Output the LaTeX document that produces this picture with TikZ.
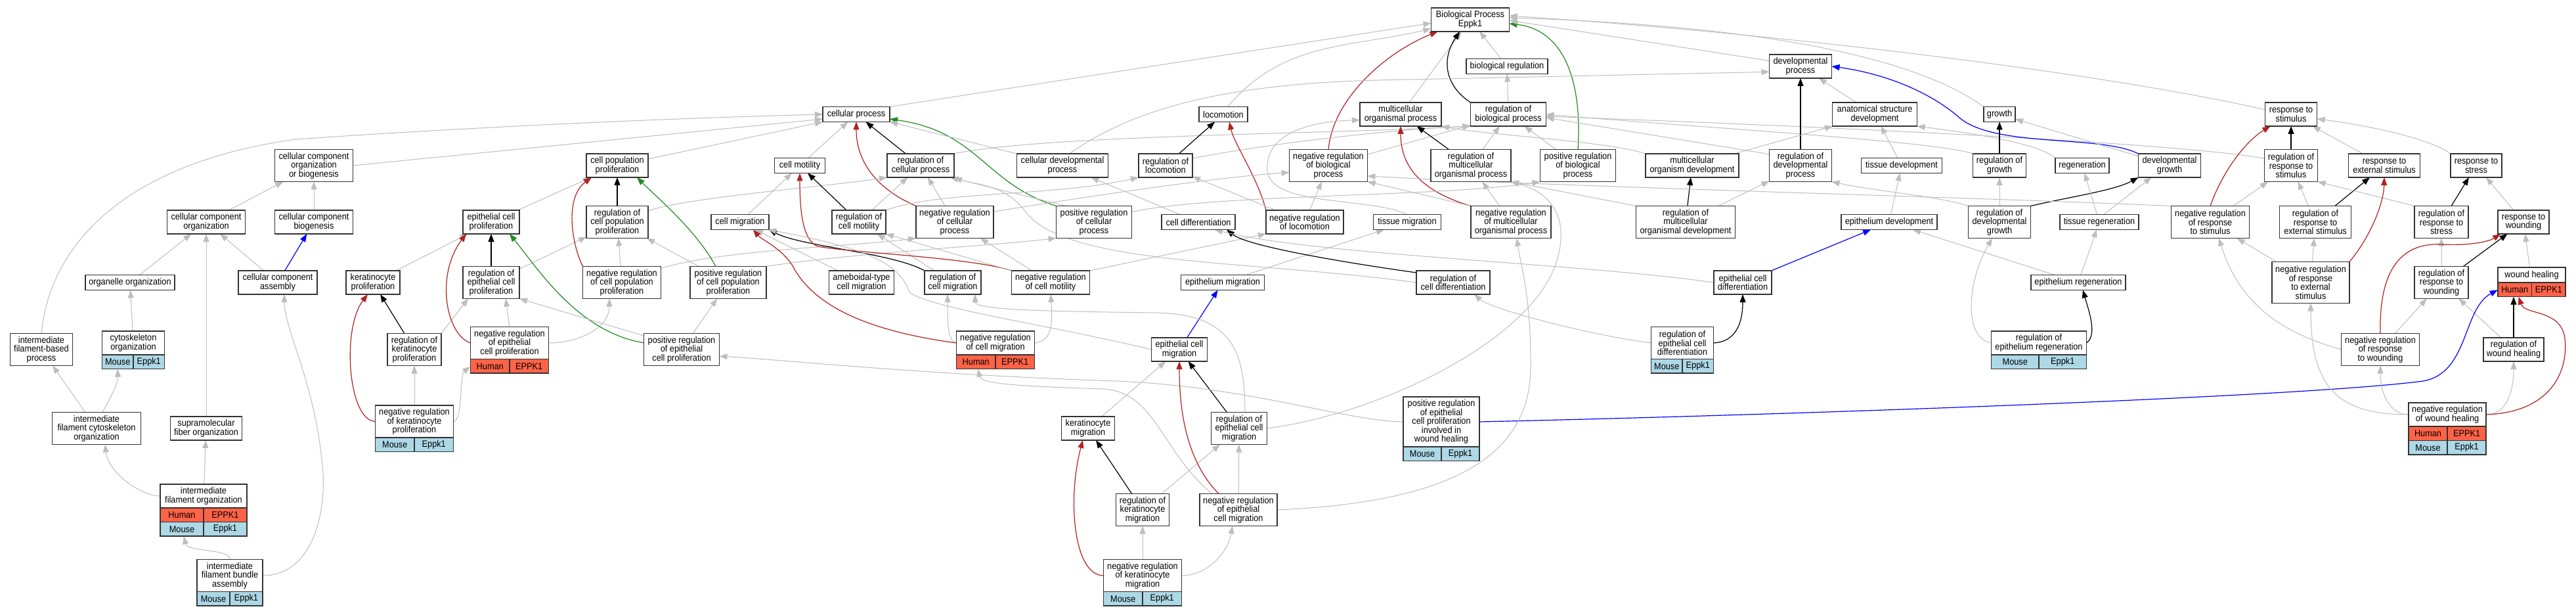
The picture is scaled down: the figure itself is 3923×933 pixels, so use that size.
\documentclass[tikz,border=0pt]{standalone}
\usepackage{fontspec}
\newfontfamily\gofont[FakeStretch=0.91]{Liberation Sans}
\usetikzlibrary{arrows.meta, fit, backgrounds}

\definecolor{tomato}{HTML}{FF6347}
\definecolor{lightblue}{HTML}{ADD8E6}
\definecolor{edgegray}{HTML}{BEBEBE}
\definecolor{firebrick}{HTML}{B22222}
\definecolor{forestgreen}{HTML}{228B22}

% one species row (two cells) under a term box
\newcommand{\genrow}[5]{%
  \node[#2, minimum width=#3, anchor=north west] (#1-a) at (#1.south west) {#4};
  \node[#2, minimum width=#3, anchor=north west] (#1-b) at (#1-a.north east) {#5};}

\begin{document}
\begin{tikzpicture}[
    x=1pt, y=-1pt,
    term/.style={rectangle, draw=black!80, line width=1.3pt, fill=white, align=center,
                 inner xsep=3pt, inner ysep=0pt, outer sep=0pt,
                 font=\gofont\fontsize{14}{13.4}\selectfont},
    l1/.style={minimum height=23pt},
    l2/.style={minimum height=36pt},
    l3/.style={minimum height=49pt},
    l4/.style={minimum height=63pt},
    l5/.style={minimum height=76pt},
    human/.style={term, fill=tomato, minimum height=21.5pt},
    mouse/.style={term, fill=lightblue, minimum height=21.5pt},
    isa/.style={draw=edgegray, line width=1pt, -{Triangle[length=12pt,width=9pt]}},
    regs/.style={isa, draw=black, line width=1.2pt},
    negreg/.style={isa, draw=firebrick, line width=1.2pt},
    posreg/.style={isa, draw=forestgreen, line width=1.2pt},
    partof/.style={isa, draw=blue, line width=1.2pt}
  ]
  \useasboundingbox (0,0) rectangle (3923,933);

  % Nodes for the upper terms
  \node[term, minimum width=119pt, l2] (bp) at (2239,30) {Biological Process\\Eppk1};
  \node[term, minimum width=124pt, l1] (br) at (2295,101) {biological regulation};
  \node[term, minimum width=95pt, l2] (dp) at (2742,101) {developmental\\process};
  \node[term, minimum width=102pt, l1] (cp) at (1304,174) {cellular process};
  \node[term, minimum width=74pt, l1] (loc) at (1863,174) {locomotion};
  \node[term, minimum width=124pt, l2] (mop) at (2133,174) {multicellular\\organismal process};
  \node[term, minimum width=115pt, l2] (rbp) at (2297,174) {regulation of\\biological process};
  \node[term, minimum width=129pt, l2] (asd) at (2855,174) {anatomical structure\\development};
  \node[term, minimum width=48pt, l1] (gro) at (3045,174) {growth};
  \node[term, minimum width=79pt, l2] (rs) at (3489,174) {response to\\stimulus};

  \node[term, minimum width=119pt, l3] (ccob) at (478,252) {cellular component\\organization\\or biogenesis};
  \node[term, minimum width=94pt, l2] (cpp) at (940,252) {cell population\\proliferation};
  \node[term, minimum width=77pt, l1] (cmot) at (1218,252) {cell motility};
  \node[term, minimum width=102pt, l2] (rcp) at (1402,252) {regulation of\\cellular process};
  \node[term, minimum width=139pt, l2] (cdp) at (1618,252) {cellular developmental\\process};
  \node[term, minimum width=82pt, l2] (rloc) at (1775,252) {regulation of\\locomotion};
  \node[term, minimum width=119pt, l3] (nrbp) at (2023,252) {negative regulation\\of biological\\process};
  \node[term, minimum width=122pt, l3] (rmop) at (2240,252) {regulation of\\multicellular\\organismal process};
  \node[term, minimum width=115pt, l3] (prbp) at (2403,252) {positive regulation\\of biological\\process};
  \node[term, minimum width=142pt, l2] (mod) at (2577,252) {multicellular\\organism development};
  \node[term, minimum width=95pt, l3] (rdp) at (2742,252) {regulation of\\developmental\\process};
  \node[term, minimum width=123pt, l1] (td) at (2896,252) {tissue development};
  \node[term, minimum width=81pt, l2] (rgro) at (3045,252) {regulation of\\growth};
  \node[term, minimum width=82pt, l1] (regen) at (3171,252) {regeneration};
  \node[term, minimum width=95pt, l2] (dg) at (3304,252) {developmental\\growth};
  \node[term, minimum width=81pt, l3] (rrs) at (3489,252) {regulation of\\response to\\stimulus};
  \node[term, minimum width=109pt, l2] (res) at (3631,252) {response to\\external stimulus};
  \node[term, minimum width=78pt, l2] (rstr) at (3771,252) {response to\\stress};

  % Nodes for the middle terms
  \node[term, minimum width=119pt, l2] (cco) at (314,338) {cellular component\\organization};
  \node[term, minimum width=119pt, l2] (ccb) at (478,338) {cellular component\\biogenesis};
  \node[term, minimum width=86pt, l2] (ecp) at (748,338) {epithelial cell\\proliferation};
  \node[term, minimum width=94pt, l3] (rcpp) at (940,338) {regulation of\\cell population\\proliferation};
  \node[term, minimum width=88pt, l1] (cmig) at (1127,338) {cell migration};
  \node[term, minimum width=82pt, l2] (rcm) at (1308,338) {regulation of\\cell motility};
  \node[term, minimum width=118pt, l3] (nrcp) at (1454,338) {negative regulation\\of cellular\\process};
  \node[term, minimum width=115pt, l3] (prcp) at (1666,338) {positive regulation\\of cellular\\process};
  \node[term, minimum width=112pt, l1] (cdiff) at (1825,338) {cell differentiation};
  \node[term, minimum width=118pt, l2] (nrloc) at (1987,338) {negative regulation\\of locomotion};
  \node[term, minimum width=103pt, l1] (tmig) at (2143,338) {tissue migration};
  \node[term, minimum width=122pt, l3] (nrmop) at (2301,338) {negative regulation\\of multicellular\\organismal process};
  \node[term, minimum width=151pt, l3] (rmod) at (2567,338) {regulation of\\multicellular\\organismal development};
  \node[term, minimum width=146pt, l1] (epd) at (2877,338) {epithelium development};
  \node[term, minimum width=95pt, l3] (rdg) at (3045,338) {regulation of\\developmental\\growth};
  \node[term, minimum width=120pt, l1] (treg) at (3197,338) {tissue regeneration};
  \node[term, minimum width=119pt, l3] (nrrs) at (3366,338) {negative regulation\\of response\\to stimulus};
  \node[term, minimum width=109pt, l3] (rres) at (3526,338) {regulation of\\response to\\external stimulus};
  \node[term, minimum width=82pt, l3] (rrstr) at (3718,338) {regulation of\\response to\\stress};
  \node[term, minimum width=78pt, l2] (rwnd) at (3843,338) {response to\\wounding};

  \node[term, minimum width=136pt, l1] (oo) at (198,430) {organelle organization};
  \node[term, minimum width=120pt, l2] (cca) at (423,430) {cellular component\\assembly};
  \node[term, minimum width=82pt, l2] (kp) at (568,430) {keratinocyte\\proliferation};
  \node[term, minimum width=86pt, l3] (repp) at (748,430) {regulation of\\epithelial cell\\proliferation};
  \node[term, minimum width=119pt, l3] (nrcpp) at (947,430) {negative regulation\\of cell population\\proliferation};
  \node[term, minimum width=116pt, l3] (prcpp) at (1109,430) {positive regulation\\of cell population\\proliferation};
  \node[term, minimum width=99pt, l2] (acm) at (1312,430) {ameboidal-type\\cell migration};
  \node[term, minimum width=86pt, l2] (rcmig) at (1451,430) {regulation of\\cell migration};
  \node[term, minimum width=119pt, l2] (nrcm) at (1600,430) {negative regulation\\of cell motility};
  \node[term, minimum width=127pt, l1] (epm) at (1862,430) {epithelium migration};
  \node[term, minimum width=112pt, l2] (rcd) at (2213,430) {regulation of\\cell differentiation};
  \node[term, minimum width=88pt, l2] (ecd) at (2654,430) {epithelial cell\\differentiation};
  \node[term, minimum width=144pt, l1] (epr) at (3165,430) {epithelium regeneration};
  \node[term, minimum width=118pt, l4] (nrres) at (3519,430) {negative regulation\\of response\\to external\\stimulus};
  \node[term, minimum width=82pt, l3] (rrw) at (3718,430) {regulation of\\response to\\wounding};
  \node[term, minimum width=103pt, l1] (wh) at (3855.5,418.5) {wound healing};
  \genrow{wh}{human}{51.5pt}{Human}{EPPK1}
  \node[fit=(wh)(wh-a)(wh-b), inner sep=0pt] (whB) {};

  % Nodes for the lower terms
  \node[term, minimum width=95pt, l3] (ifbp) at (63,532) {intermediate\\filament-based\\process};
  \node[term, minimum width=95pt, l2] (cyto) at (203,522) {cytoskeleton\\organization};
  \genrow{cyto}{mouse}{47.5pt}{Mouse}{Eppk1}
  \node[fit=(cyto)(cyto-a)(cyto-b), inner sep=0pt] (cytoB) {};
  \node[term, minimum width=82pt, l3] (rkp) at (631,532) {regulation of\\keratinocyte\\proliferation};
  \node[term, minimum width=119pt, l3] (nrepp) at (776,522) {negative regulation\\of epithelial\\cell proliferation};
  \genrow{nrepp}{human}{59.5pt}{Human}{EPPK1}
  \node[fit=(nrepp)(nrepp-a)(nrepp-b), inner sep=0pt] (nreppB) {};
  \node[term, minimum width=115pt, l3] (prepp) at (1038,532) {positive regulation\\of epithelial\\cell proliferation};
  \node[term, minimum width=119pt, l2] (nrcmig) at (1516,522) {negative regulation\\of cell migration};
  \genrow{nrcmig}{human}{59.5pt}{Human}{EPPK1}
  \node[fit=(nrcmig)(nrcmig-a)(nrcmig-b), inner sep=0pt] (nrcmigB) {};
  \node[term, minimum width=85pt, l2] (ecm) at (1796,532) {epithelial cell\\migration};
  \node[term, minimum width=95pt, l3] (redd) at (2562,522) {regulation of\\epithelial cell\\differentiation};
  \genrow{redd}{mouse}{47.5pt}{Mouse}{Eppk1}
  \node[term, minimum width=145pt, l2] (rer) at (3105,522) {regulation of\\epithelium regeneration};
  \genrow{rer}{mouse}{72.5pt}{Mouse}{Eppk1}
  \node[term, minimum width=119pt, l3] (nrrw) at (3625,532) {negative regulation\\of response\\to wounding};
  \node[term, minimum width=92pt, l2] (rwh) at (3828,532) {regulation of\\wound healing};

  \node[term, minimum width=135pt, l3] (ifco) at (147,652) {intermediate\\filament cytoskeleton\\organization};
  \node[term, minimum width=109pt, l2] (sfo) at (314,652) {supramolecular\\fiber organization};
  \node[term, minimum width=119pt, l3] (nrkp) at (631,641.5) {negative regulation\\of keratinocyte\\proliferation};
  \genrow{nrkp}{mouse}{59.5pt}{Mouse}{Eppk1}
  \node[term, minimum width=81pt, l2] (km) at (1657,652) {keratinocyte\\migration};
  \node[term, minimum width=85pt, l3] (recm) at (1887,652) {regulation of\\epithelial cell\\migration};
  \node[term, minimum width=116pt, l5] (prwh) at (2195,642) {positive regulation\\of epithelial\\cell proliferation\\involved in\\wound healing};
  \genrow{prwh}{mouse}{58pt}{Mouse}{Eppk1}
  \node[term, minimum width=118pt, l2] (nrwh) at (3727,631) {negative regulation\\of wound healing};
  \genrow{nrwh}{human}{59pt}{Human}{EPPK1}
  \genrow{nrwh-a}{mouse}{59pt}{Mouse}{Eppk1}

  \node[term, minimum width=132pt, l2] (ifo) at (310,755) {intermediate\\filament organization};
  \genrow{ifo}{human}{66pt}{Human}{EPPK1}
  \genrow{ifo-a}{mouse}{66pt}{Mouse}{Eppk1}
  \node[fit=(ifo)(ifo-a-a)(ifo-a-b), inner sep=0pt] (ifoB) {};
  \node[term, minimum width=81pt, l3] (rkm) at (1740,776) {regulation of\\keratinocyte\\migration};
  \node[term, minimum width=118pt, l3] (nrecm) at (1886,776) {negative regulation\\of epithelial\\cell migration};

  \node[term, minimum width=100pt, l3] (ifba) at (350,876) {intermediate\\filament bundle\\assembly};
  \genrow{ifba}{mouse}{50pt}{Mouse}{Eppk1}
  \node[term, minimum width=119pt, l3] (nrkm) at (1740,876) {negative regulation\\of keratinocyte\\migration};
  \genrow{nrkm}{mouse}{59.5pt}{Mouse}{Eppk1}

  \begin{scope}[on background layer]
  \fill[white] (0,0) rectangle (3923,933);

  % Arrows into the root
  \draw[isa] (br) -- (bp);
  \draw[isa] (cp.north east) -- (bp.185);
  \draw[isa] (loc.60) to[out=50,in=193] (bp.193);
  \draw[isa] (mop) -- (bp);
  \draw[regs] (rbp.north west) .. controls (2200,130) and (2195,90) .. ([xshift=-16pt]bp.south);
  \draw[negreg] (nrbp.north) .. controls (2030,150) and (2110,80) .. ([xshift=10pt]bp.south west);
  \draw[posreg] (prbp.north) .. controls (2410,120) and (2380,45) .. ([yshift=-6pt]bp.east);
  \draw[isa] (dp.170) -- ([yshift=-1pt]bp.east);
  \draw[isa] (gro.north west) .. controls (2920,90) and (2700,40) .. ([yshift=3pt]bp.east);
  \draw[isa] (rs.170) .. controls (3200,110) and (2700,50) .. ([yshift=6pt]bp.east);

  % Arrows of the upper rows
  \draw[isa] (rbp) -- (br);
  \draw[regs] (rcp) -- (cp);
  \draw[isa] (rcp.20) .. controls (1600,205) and (2000,205) .. (rbp.south west);
  \draw[isa] (rloc.15) .. controls (1950,215) and (2150,195) .. (rbp.south west);
  \draw[isa] (nrbp) -- (rbp);
  \draw[isa] (rmop) -- (rbp);
  \draw[isa] (prbp) -- (rbp);
  \draw[isa] (rdp.160) -- (rbp.-5);
  \draw[isa] (rgro.north west) .. controls (2950,215) and (2600,195) .. (rbp.east);
  \draw[isa] (rrs.165) .. controls (3300,215) and (2700,190) .. ([yshift=-3pt]rbp.east);
  \draw[isa] (ccob.east) -- (cp.188);
  \draw[isa] (ifbp.north) .. controls (75,380) and (180,250) .. (450,212) .. controls (800,188) and (1100,178) .. (cp.west);
  \draw[isa] (cpp) -- (cp.south west);
  \draw[isa] (cmot) -- (cp);
  \draw[negreg] (nrcp.north west) .. controls (1340,290) and (1304,250) .. (cp.south);
  \draw[posreg] (prcp.north west) .. controls (1500,280) and (1490,200) .. (cp.-8);
  \draw[isa] (cdp.north west) -- (cp.south east);
  \draw[isa] (cdp.60) .. controls (1720,170) and (1850,128) .. (2100,122) -- (dp.190);
  \draw[regs] (rloc) -- (loc);
  \draw[negreg] (nrloc.north west) .. controls (1915,270) and (1880,220) .. ([xshift=9pt]loc.south);
  \draw[isa] (nrloc) -- (rloc);
  \draw[isa] (nrloc) -- (nrbp);
  \draw[isa] (rcm.north east) .. controls (1430,290) and (1600,300) .. (rloc.south west);
  \draw[isa] (nrcm.north east) -- (nrloc.south west);
  \draw[regs] (rmop) -- (mop);
  \draw[negreg] (nrmop.north west) .. controls (2160,290) and (2133,250) .. (mop.south);
  \draw[isa] (mod.north west) .. controls (2450,215) and (2260,205) .. (mop.south east);
  \draw[isa] (tmig.north) .. controls (2090,300) and (1935,315) .. (1930,260) .. controls (1926,205) and (1990,185) .. (mop.188);
  \draw[isa] (epm) -- (tmig);
  \draw[isa] (asd) -- (dp);
  \draw[regs] (rdp) -- (dp);
  \draw[partof] (dg.north west) .. controls (3200,205) and (3040,225) .. (2985,180) .. controls (2940,140) and (2870,112) .. (dp.east);
  \draw[isa] (mod) -- (asd);
  \draw[isa] (td) -- (asd);
  \draw[isa] (regen.north west) .. controls (3100,215) and (2980,200) .. (asd.south east);
  \draw[regs] (rgro) -- (gro);
  \draw[isa] (dg) -- (gro);
  \draw[regs] (rrs) -- (rs);
  \draw[negreg] (nrrs.north) .. controls (3385,260) and (3420,215) .. ([xshift=8pt]rs.south west);
  \draw[isa] (res) -- (rs);
  \draw[isa] (rstr.north west) .. controls (3700,210) and (3600,190) .. (rs.-10);

  % Arrows of the middle rows
  \draw[isa] (cco) -- (ccob);
  \draw[isa] (ccb) -- (ccob);
  \draw[isa] (ecp) -- (cpp);
  \draw[regs] (rcpp) -- (cpp);
  \draw[isa] (rcpp.20) .. controls (1050,300) and (1250,285) .. (rcp.south west);
  \draw[isa] (cmig) -- (cmot);
  \draw[regs] (rcm) -- (cmot);
  \draw[isa] (rcm) -- (rcp);
  \draw[isa] (nrcp) -- (rcp);
  \draw[isa] (nrcp.15) .. controls (1650,300) and (1850,270) .. (nrbp.190);
  \draw[isa] (prcp.150) -- ([xshift=-6pt]rcp.south east);
  \draw[isa] (prcp.15) .. controls (1850,295) and (2200,300) .. (prbp.south west);
  \draw[isa] (cdiff) -- (cdp);
  \draw[regs] (rcd.165) .. controls (2050,400) and (1900,375) .. (cdiff.-15);
  \draw[isa] (rcd.west) .. controls (1900,395) and (1620,405) .. (1560,320) .. controls (1530,280) and (1480,280) .. (rcp.south east);
  \draw[isa] (ecd.west) .. controls (2400,400) and (2000,388) .. (cdiff.-25);
  \draw[isa] (nrmop) -- (rmop);
  \draw[isa] (nrmop.north west) -- (nrbp.south east);
  \draw[isa] (rmod.north west) -- (rmop.south east);
  \draw[regs] (rmod) -- (mod);
  \draw[isa] (rmod) -- (rdp);
  \draw[isa] (epd) -- (td);
  \draw[isa] (rdg) -- (rgro);
  \draw[regs] (rdg.north east) .. controls (3150,300) and (3220,290) .. (dg.south west);
  \draw[isa] (rdg.north west) .. controls (2960,300) and (2850,290) .. (rdp.south east);
  \draw[isa] (treg) -- (regen);
  \draw[isa] (treg.60) -- ([xshift=20pt]dg.south west);
  \draw[isa] (nrrs) -- (rrs);
  \draw[isa] (nrrs.north west) .. controls (3000,300) and (2400,285) .. (nrbp.-15);
  \draw[isa] (rres) -- (rrs);
  \draw[regs] (rres) -- (res);
  \draw[isa] (rrstr.north west) -- (rrs.south east);
  \draw[regs] (rrstr) -- (rstr);
  \draw[isa] (rwnd) -- (rstr);

  \draw[isa] (oo) -- (cco);
  \draw[isa] (cca) -- (cco);
  \draw[partof] (cca) -- (ccb);
  \draw[isa] (kp) -- (ecp);
  \draw[regs] (repp) -- (ecp);
  \draw[isa] (repp) -- (rcpp);
  \draw[negreg] (nrcpp.north west) .. controls (870,370) and (860,300) .. ([xshift=8pt]cpp.south west);
  \draw[isa] (nrcpp) -- (rcpp);
  \draw[isa] (nrcpp.20) .. controls (1100,380) and (1300,375) .. (nrcp.south west);
  \draw[posreg] ([xshift=-19pt]prcpp.north) .. controls (1060,350) and (1000,300) .. ([xshift=30pt]cpp.south);
  \draw[isa] (prcpp) -- (rcpp);
  \draw[isa] (prcpp.north east) .. controls (1300,385) and (1500,375) .. (prcp.south west);
  \draw[isa] (acm) -- (cmig);
  \draw[regs] (rcmig.north west) .. controls (1360,385) and (1220,375) .. (cmig.south east);
  \draw[isa] (rcmig) -- (rcm);
  \draw[negreg] (nrcm.north west) .. controls (1480,392) and (1300,385) .. (1245,375) .. controls (1222,365) and (1218,320) .. (cmot.south);
  \draw[isa] (nrcm.north west) -- (rcm.south east);
  \draw[isa] (nrcm) -- (nrcp);
  \draw[isa] (nrres) -- (rres);
  \draw[negreg] (nrres.north east) .. controls (3610,360) and (3630,310) .. (res.south);
  \draw[isa] (nrres) -- (nrrs);
  \draw[isa] (rrw) -- (rrstr);
  \draw[regs] (rrw) -- (rwnd);
  \draw[isa] (whB) -- (rwnd);
  \draw[partof] (ecd) -- (epd);
  \draw[isa] (epr) -- (treg);
  \draw[isa] (epr) -- (epd);

  % Arrows of the lower rows
  \draw[isa] (cyto) -- (oo);
  \draw[regs] (rkp) -- (kp);
  \draw[isa] (rkp.north east) -- ([xshift=-35pt]repp.south);
  \draw[negreg] (nrepp.west) .. controls (680,510) and (662,420) .. ([xshift=5pt]ecp.south west);
  \draw[isa] (nrepp.north) -- ([xshift=22pt]repp.south);
  \draw[isa] (nrepp.east) .. controls (880,522) and (928,500) .. ([xshift=-19pt]nrcpp.south);
  \draw[posreg] (prepp.170) .. controls (880,505) and (820,410) .. ([xshift=28pt]ecp.south);
  \draw[isa] (prepp.160) -- (repp.south east);
  \draw[isa] (prepp) -- (prcpp);
  \draw[isa] (nrcmig.west) .. controls (1443,520) and (1443,490) .. ([xshift=-8pt]rcmig.south);
  \draw[negreg] (nrcmig.west) .. controls (1330,505) and (1245,470) .. (1210,410) .. controls (1195,380) and (1160,365) .. ([xshift=20pt]cmig.south);
  \draw[isa] (nrcmig.east) .. controls (1603,520) and (1603,490) .. (nrcm.south);
  \draw[isa] (ecm.west) .. controls (1600,495) and (1420,470) .. (1385,445) .. controls (1370,400) and (1320,378) .. (cmig.-15);
  \draw[partof] (ecm) -- (epm);
  \draw[isa] (redd.west) .. controls (2420,510) and (2270,470) .. ([xshift=32pt]rcd.south);
  \draw[regs] (redd.east) .. controls (2650,520) and (2654,480) .. (ecd.south);
  \draw[regs] (rer.east) .. controls (3195,510) and (3180,470) .. ([xshift=7pt]epr.south);
  \draw[isa] (rer.west) .. controls (2990,515) and (2995,430) .. ([xshift=-11pt]rdg.south);
  \draw[isa] (nrrw) -- (rrw);
  \draw[isa] (nrrw.west) .. controls (3470,505) and (3410,460) .. ([xshift=13pt]nrrs.south);
  \draw[negreg] (nrrw.north) .. controls (3623,420) and (3650,368) .. (3720,372) .. controls (3760,374) and (3790,368) .. ([xshift=4pt]rwnd.south west);
  \draw[isa] (rwh) -- (rrw);
  \draw[regs] (rwh.north) -- (rwh.north |- whB.south);

  \draw[isa] (ifco) -- (ifbp);
  \draw[isa] (ifco.70) .. controls (172,600) and (180,580) .. ([xshift=-24pt]cytoB.south);
  \draw[isa] (sfo) -- (cco);
  \draw[negreg] (nrkp.west) .. controls (530,640) and (520,500) .. ([xshift=-8pt]kp.south);
  \draw[isa] (nrkp) -- (rkp);
  \draw[isa] (nrkp.east) .. controls (705,641) and (700,570) .. ([yshift=10pt]nreppB.south west);
  \draw[isa] (km) -- (ecm);
  \draw[regs] (recm) -- (ecm);
  \draw[isa] (recm.70) .. controls (1896,540) and (1880,478) .. (1760,476) .. controls (1600,474) and (1485,472) .. ([xshift=34pt]rcmig.south);
  \draw[isa] (recm.east) .. controls (2100,630) and (2330,520) .. (2370,400) .. controls (2395,320) and (2350,290) .. (rmop.south east);
  \draw[isa] (prwh.west) .. controls (2050,641) and (1900,588) .. (1700,580) .. controls (1400,570) and (1200,548) .. (prepp.-10);
  \draw[partof] (prwh.east) .. controls (2700,632) and (3500,605) .. (3690,580) .. controls (3760,568) and (3750,470) .. ([yshift=-12pt]whB.west);
  \draw[isa] (nrwh.west) .. controls (3640,631) and (3625,600) .. (nrrw.south);
  \draw[isa] (nrwh.east) .. controls (3815,631) and (3828,600) .. (rwh.south);
  \draw[negreg] (nrwh.east) .. controls (3880,628) and (3912,570) .. (3906,515) .. controls (3900,470) and (3845,480) .. ([xshift=-20pt]whB.south);
  \draw[isa] (nrwh.west) .. controls (3560,631) and (3519,590) .. (nrres.south);

  \draw[isa] (ifo.west) .. controls (215,755) and (165,720) .. ([xshift=13pt]ifco.south);
  \draw[isa] (ifo) -- (sfo);
  \draw[regs] (rkm) -- (km);
  \draw[isa] (rkm) -- (recm);
  \draw[negreg] ([xshift=-30pt]nrecm.north) .. controls (1805,700) and (1796,620) .. (ecm.south);
  \draw[isa] (nrecm) -- (recm);
  \draw[isa] ([xshift=-40pt]nrecm.north) .. controls (1770,690) and (1760,596) .. (1680,592) .. controls (1560,588) and (1495,585) .. ([xshift=-27pt]nrcmigB.south);
  \draw[isa] (nrecm.east) .. controls (2200,765) and (2330,700) .. (2331,560) .. controls (2332,450) and (2315,400) .. ([xshift=9pt]nrmop.south);

  \draw[isa] (ifba.north) .. controls (351,835) and (285,840) .. ([xshift=-30pt]ifoB.south);
  \draw[isa] (ifba.east) .. controls (480,876) and (500,770) .. (490,700) .. controls (478,580) and (433,500) .. ([xshift=10pt]cca.south);
  \draw[negreg] (nrkm.west) .. controls (1635,876) and (1625,760) .. ([xshift=-8pt]km.south);
  \draw[isa] (nrkm) -- (rkm);
  \draw[isa] (nrkm.east) .. controls (1840,876) and (1870,840) .. ([xshift=-9pt]nrecm.south);
  \end{scope}
\end{tikzpicture}
\end{document}
